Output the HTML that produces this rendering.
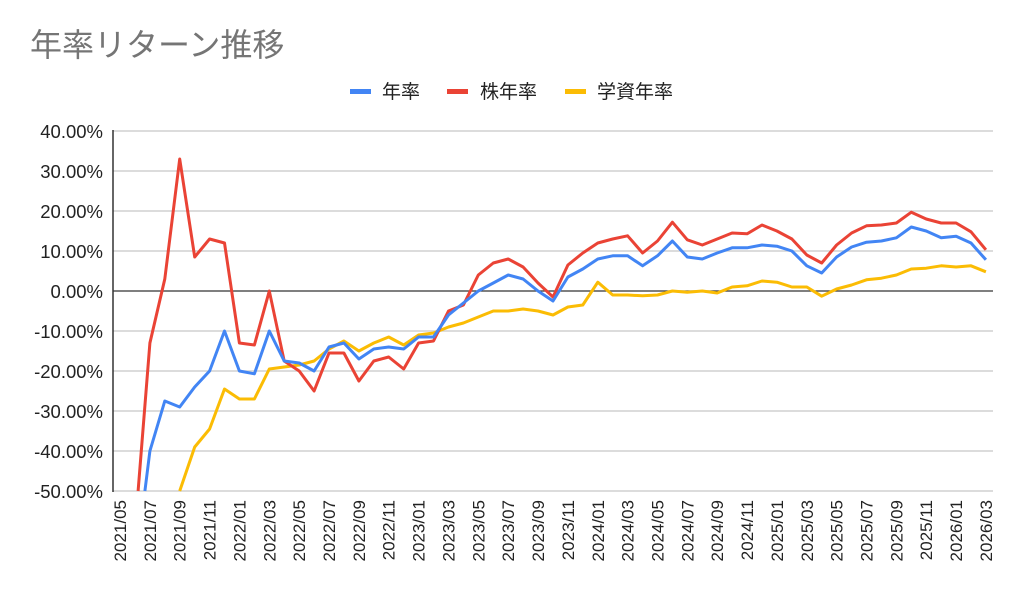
<!DOCTYPE html>
<html><head><meta charset="utf-8"><style>
html,body{margin:0;padding:0;background:#fff;overflow:hidden;}
svg{display:block;font-family:"Liberation Sans","Noto Sans CJK JP",sans-serif;}
</style></head><body>
<svg width="1024" height="603" viewBox="0 0 1024 603" xmlns="http://www.w3.org/2000/svg">
<text x="30" y="56" font-size="32" fill="#757575">年率リターン推移</text>
<rect x="350" y="89" width="21" height="5" fill="#4285f4"/>
<text x="382" y="98" font-size="19" fill="#222">年率</text>
<rect x="447" y="89" width="21" height="5" fill="#ea4335"/>
<text x="480" y="98" font-size="19" fill="#222">株年率</text>
<rect x="565" y="89" width="21" height="5" fill="#fbbc04"/>
<text x="597" y="98" font-size="19" fill="#222">学資年率</text>
<g stroke="#d0d0d0" stroke-width="1.5">
<line x1="113" x2="993" y1="131" y2="131"/><line x1="113" x2="993" y1="171" y2="171"/><line x1="113" x2="993" y1="211" y2="211"/><line x1="113" x2="993" y1="251" y2="251"/><line x1="113" x2="993" y1="331" y2="331"/><line x1="113" x2="993" y1="371" y2="371"/><line x1="113" x2="993" y1="411" y2="411"/><line x1="113" x2="993" y1="451" y2="451"/><line x1="113" x2="993" y1="491" y2="491"/>
</g>
<g font-size="18.5" fill="#222" text-anchor="end">
<text x="103" y="138">40.00%</text><text x="103" y="178">30.00%</text><text x="103" y="218">20.00%</text><text x="103" y="258">10.00%</text><text x="103" y="298">0.00%</text><text x="103" y="338">-10.00%</text><text x="103" y="378">-20.00%</text><text x="103" y="418">-30.00%</text><text x="103" y="458">-40.00%</text><text x="103" y="498">-50.00%</text>
</g>
<g font-size="17" fill="#222" text-anchor="end">
<text transform="translate(126,500) rotate(-90)">2021/05</text>
<text transform="translate(155.9,500) rotate(-90)">2021/07</text>
<text transform="translate(185.7,500) rotate(-90)">2021/09</text>
<text transform="translate(215.6,500) rotate(-90)">2021/11</text>
<text transform="translate(245.4,500) rotate(-90)">2022/01</text>
<text transform="translate(275.3,500) rotate(-90)">2022/03</text>
<text transform="translate(305.2,500) rotate(-90)">2022/05</text>
<text transform="translate(335,500) rotate(-90)">2022/07</text>
<text transform="translate(364.9,500) rotate(-90)">2022/09</text>
<text transform="translate(394.7,500) rotate(-90)">2022/11</text>
<text transform="translate(424.6,500) rotate(-90)">2023/01</text>
<text transform="translate(454.5,500) rotate(-90)">2023/03</text>
<text transform="translate(484.3,500) rotate(-90)">2023/05</text>
<text transform="translate(514.2,500) rotate(-90)">2023/07</text>
<text transform="translate(544,500) rotate(-90)">2023/09</text>
<text transform="translate(573.9,500) rotate(-90)">2023/11</text>
<text transform="translate(603.8,500) rotate(-90)">2024/01</text>
<text transform="translate(633.6,500) rotate(-90)">2024/03</text>
<text transform="translate(663.5,500) rotate(-90)">2024/05</text>
<text transform="translate(693.3,500) rotate(-90)">2024/07</text>
<text transform="translate(723.2,500) rotate(-90)">2024/09</text>
<text transform="translate(753.1,500) rotate(-90)">2024/11</text>
<text transform="translate(782.9,500) rotate(-90)">2025/01</text>
<text transform="translate(812.8,500) rotate(-90)">2025/03</text>
<text transform="translate(842.6,500) rotate(-90)">2025/05</text>
<text transform="translate(872.5,500) rotate(-90)">2025/07</text>
<text transform="translate(902.4,500) rotate(-90)">2025/09</text>
<text transform="translate(932.2,500) rotate(-90)">2025/11</text>
<text transform="translate(962.1,500) rotate(-90)">2026/01</text>
<text transform="translate(991.9,500) rotate(-90)">2026/03</text>
</g>
<line x1="113" y1="291" x2="993" y2="291" stroke="#333" stroke-width="1.3"/>
<line x1="113" y1="130" x2="113" y2="492" stroke="#333" stroke-width="1.5"/>
<g fill="none" stroke-width="3" stroke-linejoin="round">
<polyline stroke="#fbbc04" points="179.7,491 194.7,447 209.6,429 224.5,389 239.4,399 254.4,399 269.3,369 284.2,367 299.2,365 314.1,361 329,349 343.9,341 358.9,351 373.8,343 388.7,337 403.7,345 418.6,335 433.5,333 448.5,327 463.4,323 478.3,317 493.3,311 508.2,311 523.1,309 538,311 553,315 567.9,307 582.8,305 597.8,282.2 612.7,295 627.6,295 642.6,295.8 657.5,295 672.4,291 687.3,292.2 702.3,291 717.2,293 732.1,287 747.1,285.8 762,281 776.9,282.2 791.9,287 806.8,287 821.7,296.2 836.6,289 851.6,285 866.5,279.8 881.4,278.2 896.4,275 911.3,269 926.2,268.2 941.2,265.8 956.1,267 971,265.8 985.9,271.8"/>
<polyline stroke="#ea4335" points="138.1,491 149.9,343 164.8,279 179.7,159 194.7,257 209.6,239 224.5,243 239.4,343 254.4,345 269.3,291 284.2,361 299.2,371 314.1,391 329,353 343.9,353 358.9,381 373.8,361 388.7,357 403.7,369 418.6,343 433.5,341 448.5,311 463.4,305 478.3,275 493.3,263 508.2,259 523.1,267 538,283 553,297 567.9,265 582.8,253 597.8,243 612.7,239 627.6,235.8 642.6,253 657.5,241 672.4,222.2 687.3,239.8 702.3,245 717.2,239 732.1,233 747.1,233.8 762,225 776.9,231 791.9,239 806.8,255 821.7,263 836.6,245 851.6,233 866.5,225.8 881.4,225 896.4,223 911.3,212.2 926.2,219 941.2,223 956.1,223 971,231.8 985.9,249.8"/>
<polyline stroke="#4285f4" points="144.9,491 149.9,451 164.8,401 179.7,407 194.7,387 209.6,371 224.5,331 239.4,371 254.4,373.8 269.3,331 284.2,361 299.2,363 314.1,371 329,347 343.9,343 358.9,359 373.8,349 388.7,347 403.7,349 418.6,337 433.5,337 448.5,315 463.4,303 478.3,291 493.3,283 508.2,275 523.1,279 538,291 553,301 567.9,277 582.8,269 597.8,259 612.7,255.8 627.6,255.8 642.6,265.8 657.5,255.8 672.4,241 687.3,257 702.3,259 717.2,253 732.1,247.8 747.1,247.8 762,245 776.9,246.2 791.9,251 806.8,265.8 821.7,273 836.6,257 851.6,247 866.5,242.2 881.4,241 896.4,237.8 911.3,227 926.2,231 941.2,237.8 956.1,236.2 971,243 985.9,259.8"/>
</g>
</svg>
</body></html>
